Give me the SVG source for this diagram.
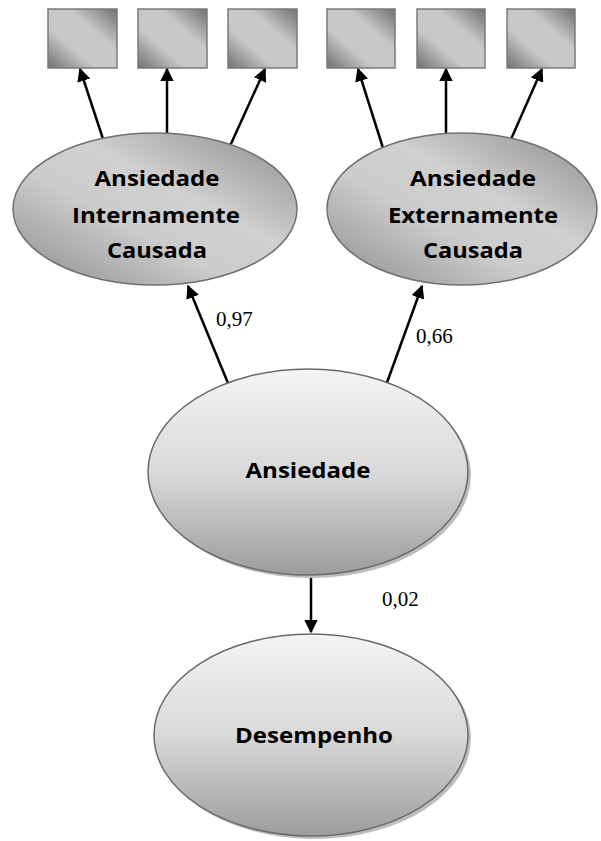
<svg xmlns="http://www.w3.org/2000/svg" width="601" height="841" viewBox="0 0 601 841">
  <defs>
    <!-- diagonal metallic fill for indicator boxes and first-order factors -->
    <linearGradient id="diag" x1="1" y1="0" x2="0" y2="1">
      <stop offset="0" stop-color="#707070"/>
      <stop offset="0.35" stop-color="#c8c8c8"/>
      <stop offset="0.65" stop-color="#c8c8c8"/>
      <stop offset="1" stop-color="#707070"/>
    </linearGradient>
    <linearGradient id="diagEll" x1="1" y1="0" x2="0" y2="1">
      <stop offset="0" stop-color="#8c8c8c"/>
      <stop offset="0.4" stop-color="#d0d0d0"/>
      <stop offset="0.6" stop-color="#cccccc"/>
      <stop offset="1" stop-color="#8c8c8c"/>
    </linearGradient>
    <!-- vertical fill for the lower factors -->
    <linearGradient id="vert" x1="0" y1="0" x2="0" y2="1">
      <stop offset="0" stop-color="#f4f4f4"/>
      <stop offset="0.5" stop-color="#d9d9d9"/>
      <stop offset="1" stop-color="#9c9c9c"/>
    </linearGradient>
    <marker id="head" viewBox="0 0 10 10" refX="9" refY="5" markerWidth="5.4" markerHeight="5.4" orient="auto" markerUnits="strokeWidth">
      <path d="M0,0 L10,5 L0,10 z" fill="#000"/>
    </marker>
    <style>
      .box { fill: url(#diag); stroke: #7a7a7a; stroke-width: 1.5; }
      .f1 { fill: url(#diagEll); stroke: #707070; stroke-width: 1.5; }
      .f2 { fill: url(#vert); stroke: #6a6a6a; stroke-width: 1.5; }
      .shadow { fill: #bdbdbd; }
      .lbl { font-family: "Open Sans", "Liberation Sans", Arial, sans-serif; font-weight: bold; font-size: 22px; fill: #000; text-anchor: middle; }
      .num { font-family: "Liberation Serif", "Times New Roman", serif; font-size: 21px; fill: #000; }
      .arr { stroke: #000; stroke-width: 2.5; fill: none; marker-end: url(#head); }
    </style>
  </defs>

  <g id="connectors">
    <line class="arr" x1="106" y1="148" x2="80" y2="69"/>
    <line class="arr" x1="167" y1="133" x2="167" y2="69"/>
    <line class="arr" x1="230" y1="146" x2="265" y2="69"/>
    <line class="arr" x1="383" y1="148" x2="358" y2="69"/>
    <line class="arr" x1="446" y1="133" x2="446" y2="69"/>
    <line class="arr" x1="508" y1="146" x2="542" y2="69"/>
    <line class="arr" x1="230" y1="388" x2="188" y2="286"/>
    <line class="arr" x1="385" y1="388" x2="422" y2="286"/>
    <line class="arr" x1="311" y1="575" x2="311" y2="632"/>
    <text class="num" x="216" y="326">0,97</text>
    <text class="num" x="416" y="343">0,66</text>
    <text class="num" x="382" y="606">0,02</text>
  </g>

  <g id="ind1"><rect class="box" x="48" y="9" width="69" height="59"/></g>
  <g id="ind2"><rect class="box" x="138" y="9" width="69" height="59"/></g>
  <g id="ind3"><rect class="box" x="228" y="9" width="69" height="59"/></g>
  <g id="ind4"><rect class="box" x="327" y="9" width="68" height="59"/></g>
  <g id="ind5"><rect class="box" x="417" y="9" width="68" height="59"/></g>
  <g id="ind6"><rect class="box" x="507" y="9" width="68" height="59"/></g>

  <g id="aic">
    <ellipse class="f1" cx="155" cy="209" rx="142" ry="76"/>
    <text class="lbl" x="157" y="186" textLength="125" lengthAdjust="spacingAndGlyphs">Ansiedade</text>
    <text class="lbl" x="156" y="223" textLength="168" lengthAdjust="spacingAndGlyphs">Internamente</text>
    <text class="lbl" x="157" y="258" textLength="100" lengthAdjust="spacingAndGlyphs">Causada</text>
  </g>

  <g id="aec">
    <ellipse class="f1" cx="462" cy="209" rx="135" ry="76"/>
    <text class="lbl" x="473" y="186" textLength="126" lengthAdjust="spacingAndGlyphs">Ansiedade</text>
    <text class="lbl" x="473" y="223" textLength="170" lengthAdjust="spacingAndGlyphs">Externamente</text>
    <text class="lbl" x="473" y="258" textLength="100" lengthAdjust="spacingAndGlyphs">Causada</text>
  </g>

  <g id="ansiedade">
    <ellipse class="shadow" cx="311" cy="475" rx="160" ry="103"/>
    <ellipse class="f2" cx="308" cy="472" rx="160" ry="103"/>
    <text class="lbl" x="308" y="478" textLength="125" lengthAdjust="spacingAndGlyphs">Ansiedade</text>
  </g>

  <g id="desempenho">
    <ellipse class="shadow" cx="314" cy="738" rx="157" ry="101"/>
    <ellipse class="f2" cx="311" cy="735" rx="157" ry="101"/>
    <text class="lbl" x="314" y="743" textLength="158" lengthAdjust="spacingAndGlyphs">Desempenho</text>
  </g>
</svg>
